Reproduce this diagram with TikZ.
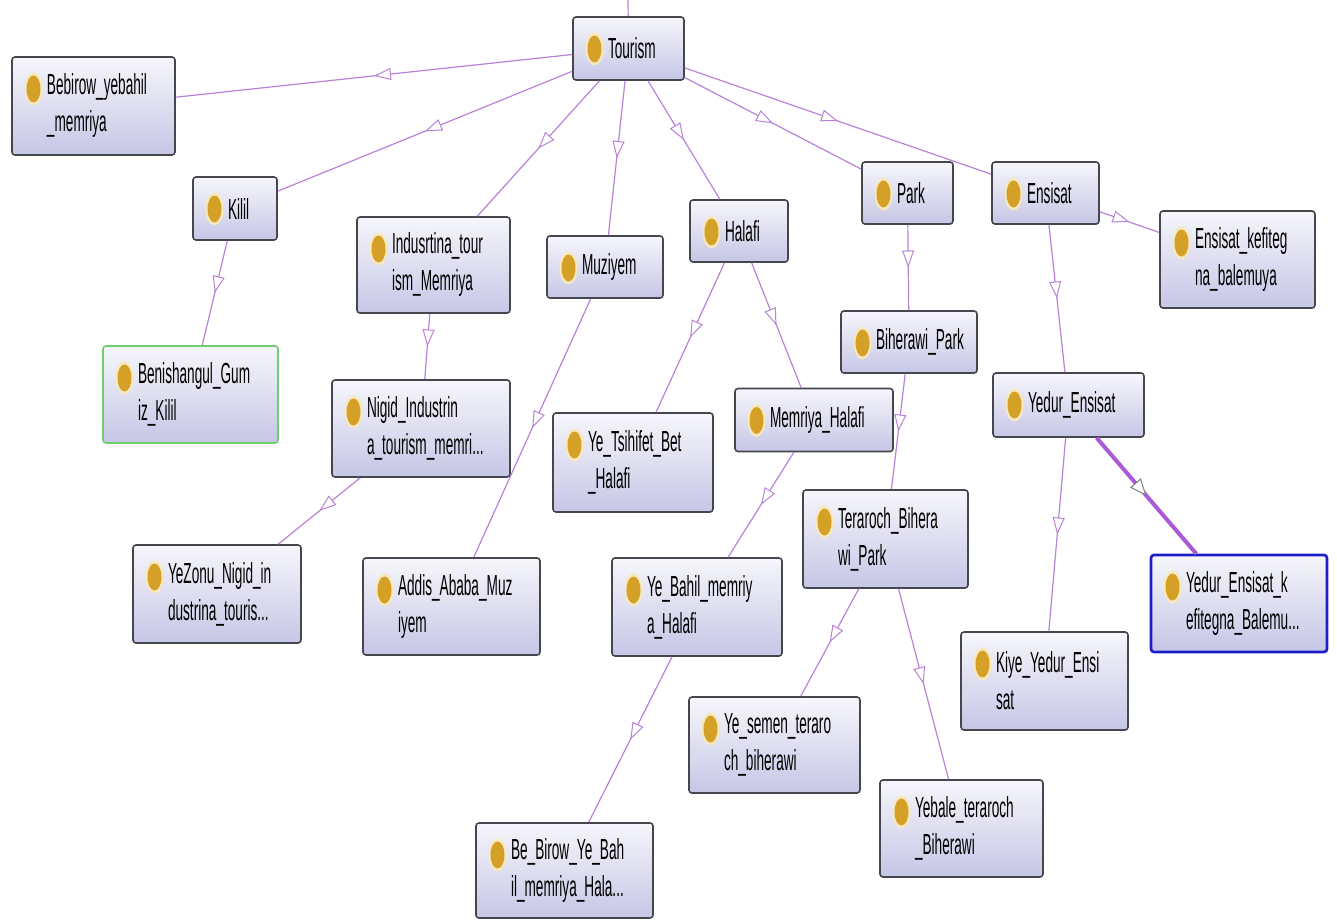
\documentclass[tikz,border=0pt]{standalone}
\usepackage{fontspec}
\setmainfont{Liberation Sans}[FakeStretch=0.47]
\usepackage{tikz}
\usetikzlibrary{arrows.meta, decorations.markings}

\definecolor{edgecol}{RGB}{185,130,215}
\definecolor{selcol}{RGB}{170,90,215}
\definecolor{boxline}{RGB}{70,70,78}
\definecolor{boxtop}{RGB}{246,246,251}
\definecolor{boxbot}{RGB}{198,198,230}
\definecolor{dotgold}{RGB}{212,160,40}
\definecolor{dothalo}{RGB}{247,232,190}
\definecolor{kililgreen}{RGB}{110,205,110}
\definecolor{selblue}{RGB}{30,30,200}

\begin{document}
\begin{tikzpicture}[x=1pt, y=-1pt,
  cls/.style={rectangle, rounded corners=3pt, draw=boxline, line width=1.6pt,
    top color=boxtop, bottom color=boxbot, inner xsep=0pt, inner ysep=2pt,
    align=left, font=\fontsize{29}{37}\selectfont,
    execute at begin node={\leftskip=35pt},
    path picture={
      \fill[dothalo] ([xshift=21.5pt,yshift=-32pt]path picture bounding box.north west)
        ellipse [x radius=9pt, y radius=16.5pt];
      \fill[dotgold] ([xshift=21.5pt,yshift=-32pt]path picture bounding box.north west)
        ellipse [x radius=7pt, y radius=13.5pt];}},
  isa/.style={draw=edgecol, line width=1.2pt, postaction={decorate},
    decoration={markings, mark=at position 0.5 with
      {\arrow{Triangle[fill=white, length=17pt, width=12pt, line width=1pt]}}}},
  selected/.style={draw=selcol, line width=4pt, postaction={decorate},
    decoration={markings, mark=at position 0.5 with
      {\arrow[draw=gray]{Triangle[fill=white, length=17pt, width=14pt, line width=1pt]}}}}]
\useasboundingbox (0,0) rectangle (1337,920);

% Classes
\node[cls, minimum width=111, minimum height=63, text width=111] (tourism) at (628.5,48.5) {Tourism};
\node[cls, minimum width=163, minimum height=98, text width=163] (bebirow) at (93.5,106) {Bebirow\_yebahil\\\_memriya};
\node[cls, minimum width=84, minimum height=63, text width=84] (kilil) at (235,208.5) {Kilil};
\node[cls, minimum width=153, minimum height=96, text width=153] (industrina) at (433.5,265) {Indusrtina\_tour\\ism\_Memriya};
\node[cls, minimum width=116, minimum height=62, text width=116] (muziyem) at (605,267) {Muziyem};
\node[cls, minimum width=98, minimum height=62, text width=98] (halafi) at (739,231) {Halafi};
\node[cls, minimum width=91, minimum height=62, text width=91] (park) at (907.5,193) {Park};
\node[cls, minimum width=107, minimum height=62, text width=107] (ensisat) at (1045.5,193) {Ensisat};
\node[cls, minimum width=155, minimum height=97, text width=155] (ensisatkef) at (1237.5,259.5) {Ensisat\_kefiteg\\na\_balemuya};
\node[cls, draw=kililgreen, minimum width=175, minimum height=97, text width=175] (benishangul) at (190.5,394.5) {Benishangul\_Gum\\iz\_Kilil};
\node[cls, minimum width=178, minimum height=97, text width=178] (nigid) at (421,428.5) {Nigid\_Industrin\\a\_tourism\_memri...};
\node[cls, minimum width=160, minimum height=99, text width=160] (tsihifet) at (633,462.5) {Ye\_Tsihifet\_Bet\\\_Halafi};
\node[cls, minimum width=158, minimum height=63, text width=158] (memhalafi) at (814,420) {Memriya\_Halafi};
\node[cls, minimum width=136, minimum height=62, text width=136] (biherawi) at (909,342) {Biherawi\_Park};
\node[cls, minimum width=151, minimum height=64, text width=151] (yedur) at (1068.5,405) {Yedur\_Ensisat};
\node[cls, minimum width=165, minimum height=98, text width=165] (teraroch) at (885.5,539) {Teraroch\_Bihera\\wi\_Park};
\node[cls, minimum width=168, minimum height=98, text width=168] (yezonu) at (217,594) {YeZonu\_Nigid\_in\\dustrina\_touris...};
\node[cls, minimum width=177, minimum height=97, text width=177] (addis) at (451.5,606.5) {Addis\_Ababa\_Muz\\iyem};
\node[cls, minimum width=170, minimum height=98, text width=170] (yebahil) at (697,607) {Ye\_Bahil\_memriy\\a\_Halafi};
\node[cls, draw=selblue, line width=2.6pt, minimum width=176, minimum height=97, text width=176] (yedurkef) at (1239,603.5) {Yedur\_Ensisat\_k\\efitegna\_Balemu...};
\node[cls, minimum width=167, minimum height=98, text width=167] (kiye) at (1044.5,681) {Kiye\_Yedur\_Ensi\\sat};
\node[cls, minimum width=171, minimum height=96, text width=171] (yesemen) at (774.5,745) {Ye\_semen\_teraro\\ch\_biherawi};
\node[cls, minimum width=163, minimum height=97, text width=163] (yebale) at (961.5,828.5) {Yebale\_teraroch\\\_Biherawi};
\node[cls, minimum width=177, minimum height=95, text width=177] (bebirowye) at (564.5,870.5) {Be\_Birow\_Ye\_Bah\\il\_memriya\_Hala...};

% Subclass links
\coordinate (thing) at (628,0);
\draw[draw=edgecol, line width=1.2pt] (thing) -- (tourism);
\draw[isa] (tourism) -- (bebirow);
\draw[isa] (tourism) -- (kilil);
\draw[isa] (tourism) -- (industrina);
\draw[isa] (tourism) -- (muziyem);
\draw[isa] (tourism) -- (halafi);
\draw[isa] (tourism) -- (park);
\draw[isa] (tourism) -- (ensisat);
\draw[isa] (ensisat) -- (ensisatkef);
\draw[isa] (kilil) -- (benishangul);
\draw[isa] (industrina) -- (nigid);
\draw[isa] (nigid) -- (yezonu);
\draw[isa] (muziyem) -- (addis);
\draw[isa] (halafi) -- (tsihifet);
\draw[isa] (halafi) -- (memhalafi);
\draw[isa] (memhalafi) -- (yebahil);
\draw[isa] (yebahil) -- (bebirowye);
\draw[isa] (park) -- (biherawi);
\draw[isa] (biherawi) -- (teraroch);
\draw[isa] (teraroch) -- (yesemen);
\draw[isa] (teraroch) -- (yebale);
\draw[isa] (ensisat) -- (yedur);
\draw[isa] (yedur) -- (kiye);
\draw[selected] (yedur) -- (yedurkef);
\end{tikzpicture}
\end{document}
